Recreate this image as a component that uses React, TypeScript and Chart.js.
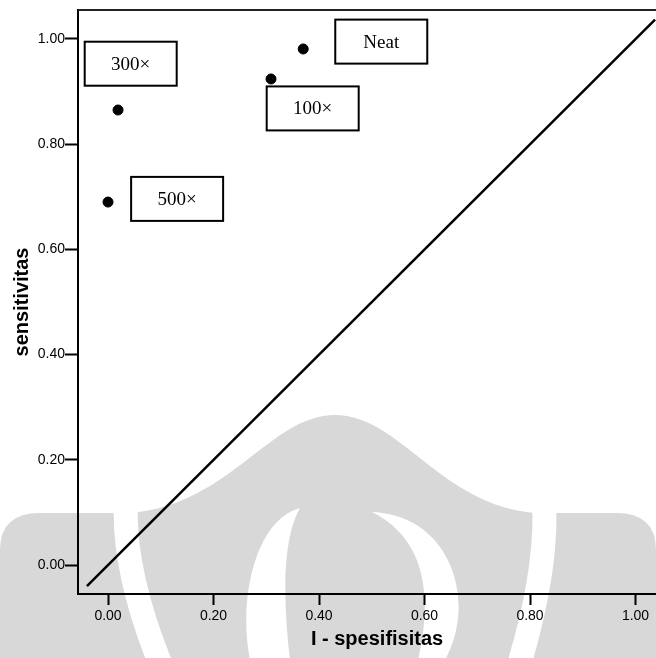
import React, { useEffect, useRef } from "react";
import { Chart, registerables } from "chart.js";

Chart.register(...registerables);

// ---- data ----
const pointLabels = ["Neat", "100×", "300×", "500×"];
const falsePositiveRate = [0.37, 0.309, 0.019, 0.0];
const sensitivity = [0.981, 0.924, 0.865, 0.69];
// centre of each label box, in data units
const labelBoxX = [0.518, 0.388, 0.043, 0.131];
const labelBoxY = [0.995, 0.868, 0.953, 0.696];
// reference (chance) diagonal end points, y = x
const diagonalEnds = [-0.04, 1.037];
const tickValues = [0, 0.2, 0.4, 0.6, 0.8, 1.0];
const xAxisTitle = "I - spesifisitas";
const xAxisTitleAt = 0.51; // horizontal centre of the x title, data units
const yAxisTitle = "sensitivitas";

// faint background watermark of the scanned page (decoration only)
const watermarkPlugin = {
  id: "watermark",
  beforeDraw(chart: any) {
    const ctx = chart.ctx;
    ctx.save();
    ctx.fillStyle = "#ffffff";
    ctx.fillRect(0, 0, chart.width, chart.height);

    ctx.fillStyle = "#d8d8d8";
    ctx.beginPath();
    ctx.moveTo(0, 550);
    ctx.quadraticCurveTo(0, 513, 40, 513);
    ctx.lineTo(130, 513);
    ctx.bezierCurveTo(230, 505, 270, 415, 335, 415);
    ctx.bezierCurveTo(400, 415, 440, 505, 535, 513);
    ctx.lineTo(616, 513);
    ctx.quadraticCurveTo(656, 513, 656, 550);
    ctx.lineTo(656, 658);
    ctx.lineTo(0, 658);
    ctx.closePath();
    ctx.fill();

    ctx.strokeStyle = "#ffffff";
    ctx.lineWidth = 24;
    ctx.beginPath();
    ctx.moveTo(126, 500);
    ctx.quadraticCurveTo(122, 570, 162, 668);
    ctx.stroke();
    ctx.beginPath();
    ctx.moveTo(544, 500);
    ctx.quadraticCurveTo(548, 570, 518, 668);
    ctx.stroke();

    ctx.fillStyle = "#ffffff";
    ctx.beginPath();
    ctx.moveTo(300, 508);
    ctx.bezierCurveTo(255, 520, 238, 600, 250, 660);
    ctx.lineTo(290, 660);
    ctx.bezierCurveTo(283, 600, 282, 540, 300, 508);
    ctx.closePath();
    ctx.fill();

    ctx.beginPath();
    ctx.moveTo(372, 512);
    ctx.bezierCurveTo(450, 515, 478, 600, 445, 660);
    ctx.lineTo(418, 660);
    ctx.bezierCurveTo(432, 600, 428, 540, 372, 512);
    ctx.closePath();
    ctx.fill();
    ctx.restore();
  },
};

const frameAndLabelsPlugin = {
  id: "frameAndLabels",
  afterDraw(chart: any) {
    const ctx = chart.ctx;
    const { left, right, top } = chart.chartArea;
    const xs = chart.scales.x;
    const ys = chart.scales.y;
    ctx.save();
    ctx.strokeStyle = "#222";
    ctx.lineWidth = 2;
    ctx.beginPath();
    ctx.moveTo(left, top);
    ctx.lineTo(right, top);
    ctx.stroke();

    // x axis title
    ctx.fillStyle = "#000";
    ctx.font = "bold 20px 'Liberation Sans', Arial, sans-serif";
    ctx.textAlign = "center";
    ctx.textBaseline = "middle";
    ctx.fillText(xAxisTitle, xs.getPixelForValue(xAxisTitleAt), xs.bottom - 19);

    const w = 92;
    const h = 44;
    ctx.font = "19px 'Liberation Serif', 'Times New Roman', serif";
    pointLabels.forEach((label, i) => {
      const cx = xs.getPixelForValue(labelBoxX[i]);
      const cy = ys.getPixelForValue(labelBoxY[i]);
      ctx.fillStyle = "#ffffff";
      ctx.fillRect(cx - w / 2, cy - h / 2, w, h);
      ctx.strokeStyle = "#000";
      ctx.lineWidth = 2;
      ctx.strokeRect(cx - w / 2, cy - h / 2, w, h);
      ctx.fillStyle = "#000";
      ctx.fillText(label, cx, cy + 1);
    });
    ctx.restore();
  },
};

export default function App() {
  const ref = useRef<HTMLCanvasElement>(null);

  useEffect(() => {
    document.body.style.margin = "0";
    if (!ref.current) return;
    const tickFont = { family: "'Liberation Sans', Arial, sans-serif", size: 14 };
    const titleFont = { family: "'Liberation Sans', Arial, sans-serif", size: 20, weight: "bold" as const };
    const chart = new Chart(ref.current, {
      type: "scatter",
      data: {
        datasets: [
          {
            type: "line",
            data: diagonalEnds.map((v) => ({ x: v, y: v })),
            borderColor: "#000",
            borderWidth: 2.5,
            pointRadius: 0,
            fill: false,
          } as any,
          {
            type: "scatter",
            data: falsePositiveRate.map((x, i) => ({ x, y: sensitivity[i] })),
            backgroundColor: "#000",
            borderColor: "#000",
            pointRadius: 5,
          },
        ],
      },
      options: {
        animation: false,
        responsive: false,
        devicePixelRatio: 1,
        layout: { autoPadding: false, padding: { top: 10, left: 0, right: 0, bottom: 0 } },
        plugins: { legend: { display: false }, tooltip: { enabled: false } },
        scales: {
          x: {
            type: "linear",
            min: -0.0569,
            max: 1.0388,
            afterBuildTicks: (s: any) => {
              s.ticks = tickValues.map((v) => ({ value: v }));
            },
            afterFit: (s: any) => {
              s.height = 64;
              s.paddingLeft = 0;
              s.paddingRight = 0;
            },
            ticks: {
              callback: (v: any) => Number(v).toFixed(2),
              font: tickFont,
              color: "#000",
              padding: 3,
              maxRotation: 0,
              autoSkip: false,
            },
            grid: {
              drawOnChartArea: false,
              drawTicks: true,
              tickLength: 11,
              tickWidth: 2,
              tickColor: "#000",
            },
            border: { display: true, color: "#000", width: 2 },
            title: { display: false },
          },
          y: {
            type: "linear",
            min: -0.0551,
            max: 1.0551,
            afterBuildTicks: (s: any) => {
              s.ticks = tickValues.map((v) => ({ value: v }));
            },
            afterFit: (s: any) => {
              s.width = 78;
              s.paddingTop = 0;
              s.paddingBottom = 0;
            },
            ticks: {
              callback: (v: any) => Number(v).toFixed(2),
              font: tickFont,
              color: "#000",
              padding: 0,
              autoSkip: false,
            },
            grid: {
              drawOnChartArea: false,
              drawTicks: true,
              tickLength: 13,
              tickWidth: 2,
              tickColor: "#000",
            },
            border: { display: true, color: "#000", width: 2 },
            title: {
              display: true,
              text: yAxisTitle,
              font: titleFont,
              color: "#000",
              padding: { top: 10, bottom: 0 },
            },
          },
        },
      },
      plugins: [watermarkPlugin, frameAndLabelsPlugin],
    });
    return () => chart.destroy();
  }, []);

  return (
    <div style={{ width: 656, height: 658 }}>
      <canvas ref={ref} width={656} height={658} />
    </div>
  );
}
